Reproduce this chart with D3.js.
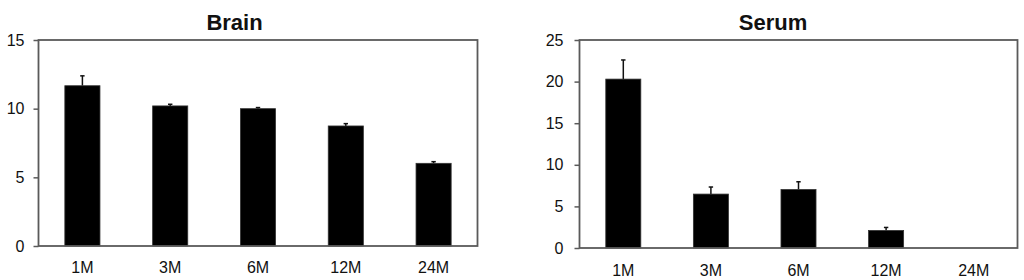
<html>
  <head>
    <meta charset="utf-8">
    <title>Brain / Serum</title>
    <style>
      body { margin: 0; background: #fff; }
      text { font-family: Arial, "Liberation Sans", sans-serif; }
    </style>
  </head>
<body>
<script src="https://cdn.jsdelivr.net/npm/d3@7"></script>
<script>

// data
var ages = ["1M", "3M", "6M", "12M", "24M"];

var brainMean = [11.67, 10.2, 10.0, 8.74, 6.02];
var brainErr  = [0.72, 0.12, 0.08, 0.17, 0.12];
var brainTicks = [0, 5, 10, 15];

var serumMean = [20.3, 6.48, 7.03, 2.11, 0];
var serumErr  = [2.3, 0.85, 0.93, 0.36, 0];
var serumTicks = [0, 5, 10, 15, 20, 25];

var width = 1024, height = 280;

var svg = d3.select("body").append("svg")
  .attr("width", width)
  .attr("height", height);

// one panel = frame + bars + error bars + axes
function drawPanel(title, means, errs, ticks, box, titleX) {
  var g = svg.append("g");

  var x = d3.scaleBand()
    .domain(ages)
    .range([box.left, box.right])
    .paddingInner(0.6)
    .paddingOuter(0.3);

  var y = d3.scaleLinear()
    .domain([0, d3.max(ticks)])
    .range([box.bottom, box.top]);

  var rows = ages.map(function(a, i) {
    return { age: a, mean: means[i], err: errs[i] };
  }).filter(function(d) { return d.mean > 0; });

  // error bars (upper only)
  g.selectAll(".err").data(rows).enter().append("line")
    .attr("x1", function(d) { return x(d.age) + x.bandwidth() / 2; })
    .attr("x2", function(d) { return x(d.age) + x.bandwidth() / 2; })
    .attr("y1", function(d) { return y(d.mean); })
    .attr("y2", function(d) { return y(d.mean + d.err); })
    .attr("stroke", "#111")
    .attr("stroke-width", 1.5);

  g.selectAll(".cap").data(rows).enter().append("line")
    .attr("x1", function(d) { return x(d.age) + x.bandwidth() / 2 - 2.2; })
    .attr("x2", function(d) { return x(d.age) + x.bandwidth() / 2 + 2.2; })
    .attr("y1", function(d) { return y(d.mean + d.err); })
    .attr("y2", function(d) { return y(d.mean + d.err); })
    .attr("stroke", "#111")
    .attr("stroke-width", 1.5);

  // bars
  g.selectAll(".bar").data(rows).enter().append("rect")
    .attr("x", function(d) { return x(d.age); })
    .attr("y", function(d) { return y(d.mean); })
    .attr("width", x.bandwidth())
    .attr("height", function(d) { return y(0) - y(d.mean); })
    .attr("fill", "#000")
    .attr("stroke", "#333")
    .attr("stroke-width", 0.8);

  // plot frame
  g.append("rect")
    .attr("x", box.left)
    .attr("y", box.top)
    .attr("width", box.right - box.left)
    .attr("height", box.bottom - box.top)
    .attr("fill", "none")
    .attr("stroke", "#5a5a5a")
    .attr("stroke-width", 1.8);

  // y axis
  var yAxis = g.append("g")
    .attr("transform", "translate(" + box.left + ",0)")
    .call(d3.axisLeft(y).tickValues(ticks).tickSize(5).tickPadding(box.tickPad));
  yAxis.select(".domain").remove();
  yAxis.selectAll(".tick line").attr("stroke", "#5a5a5a").attr("stroke-width", 1.5);
  yAxis.selectAll(".tick text")
    .attr("fill", "#111")
    .style("font-size", "16px")
    .style("font-family", "Arial, 'Liberation Sans', sans-serif");

  // x labels
  g.selectAll(".xlab").data(ages).enter().append("text")
    .attr("x", function(d) { return x(d) + x.bandwidth() / 2; })
    .attr("y", box.labelY)
    .attr("text-anchor", "middle")
    .attr("fill", "#111")
    .style("font-size", "16px")
    .text(function(d) { return d; });

  // title
  g.append("text")
    .attr("x", titleX)
    .attr("y", 30)
    .attr("text-anchor", "middle")
    .attr("fill", "#111")
    .style("font-size", "22px")
    .style("font-weight", "bold")
    .text(title);
}

drawPanel("Brain", brainMean, brainErr, brainTicks,
  { left: 38.5, right: 477.5, top: 40, bottom: 246, labelY: 273, tickPad: 9 }, 234.5);

drawPanel("Serum", serumMean, serumErr, serumTicks,
  { left: 579.5, right: 1017.5, top: 40, bottom: 248, labelY: 275.5, tickPad: 11 }, 773);

</script>
</body>
</html>
